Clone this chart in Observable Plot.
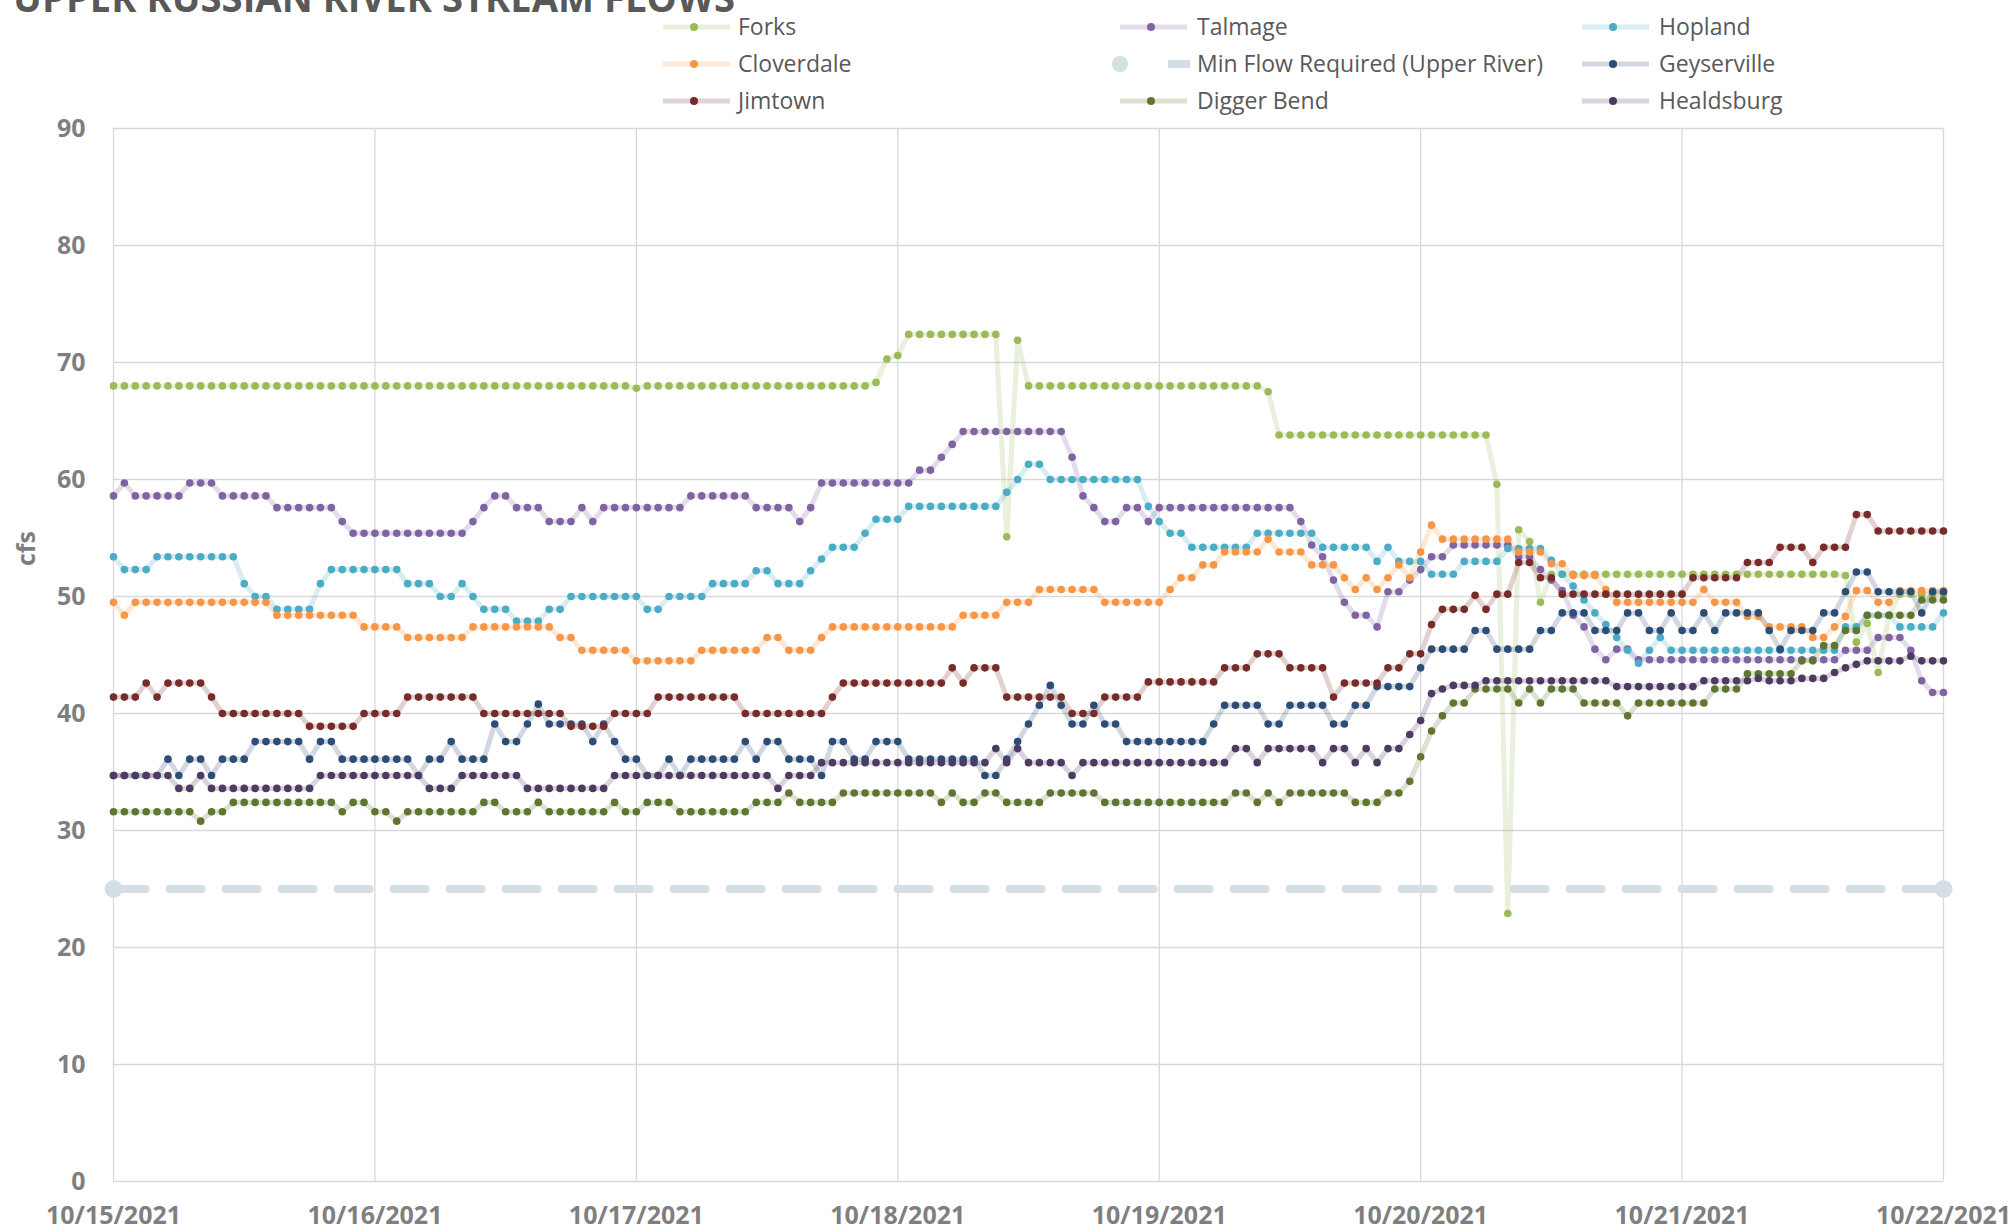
<!DOCTYPE html>
<html><head><meta charset="utf-8">
<script src="https://cdn.jsdelivr.net/npm/d3@7"></script>
<script src="https://cdn.jsdelivr.net/npm/@observablehq/plot@0.6"></script>
<style>
html,body{margin:0;padding:0;background:#fff;width:2012px;height:1232px;overflow:hidden;}
#header{display:block;position:relative;z-index:1;overflow:visible;}
#chart svg{display:block;}
</style></head>
<body>
<svg id="header" width="2012" height="100"></svg>
<div id="chart"></div>
<script>
const titleText = "UPPER RUSSIAN RIVER STREAM FLOWS";
const xTickLabels = ["10/15/2021","10/16/2021","10/17/2021","10/18/2021","10/19/2021","10/20/2021","10/21/2021","10/22/2021"];
const yTicks = [0,10,20,30,40,50,60,70,80,90];
const yLabel = "cfs";
const seriesNames = ["Forks","Talmage","Hopland","Cloverdale","Min Flow Required (Upper River)","Geyserville","Jimtown","Digger Bend","Healdsburg"];
const seriesColors = ["#9BBB59","#8064A2","#4BACC6","#F79646","#D3DFE4","#2C4D75","#772C2A","#5F7530","#4D3B62"];

// hourly readings, 10/15/2021 00:00 through 10/22/2021 00:00 (169 values)
const forks = [
68,68,68,68,68,68,68,68,68,68,68,68,68,68,68,68,68,68,68,68,68,68,68,68,
68,68,68,68,68,68,68,68,68,68,68,68,68,68,68,68,68,68,68,68,68,68,68,68,
67.8,68,68,68,68,68,68,68,68,68,68,68,68,68,68,68,68,68,68,68,68,68,68.3,70.3,
70.6,72.4,72.4,72.4,72.4,72.4,72.4,72.4,72.4,72.4,55.1,71.9,68,68,68,68,68,68,68,68,68,68,68,68,
68,68,68,68,68,68,68,68,68,68,67.5,63.8,63.8,63.8,63.8,63.8,63.8,63.8,63.8,63.8,63.8,63.8,63.8,63.8,
63.8,63.8,63.8,63.8,63.8,63.8,63.8,59.6,22.9,55.7,54.7,49.5,51.9,51.9,51.9,51.9,51.9,51.9,51.9,51.9,51.9,51.9,51.9,51.9,
51.9,51.9,51.9,51.9,51.9,51.9,51.9,51.9,51.9,51.9,51.9,51.9,51.9,51.9,51.9,51.8,46.1,47.7,43.5,48.4,50.2,50.2,50.2,50.2,
50.2];
const talmage = [
58.6,59.7,58.6,58.6,58.6,58.6,58.6,59.7,59.7,59.7,58.6,58.6,58.6,58.6,58.6,57.6,57.6,57.6,57.6,57.6,57.6,56.4,55.4,55.4,
55.4,55.4,55.4,55.4,55.4,55.4,55.4,55.4,55.4,56.4,57.6,58.6,58.6,57.6,57.6,57.6,56.4,56.4,56.4,57.6,56.4,57.6,57.6,57.6,
57.6,57.6,57.6,57.6,57.6,58.6,58.6,58.6,58.6,58.6,58.6,57.6,57.6,57.6,57.6,56.4,57.6,59.7,59.7,59.7,59.7,59.7,59.7,59.7,
59.7,59.7,60.8,60.8,61.9,63.0,64.1,64.1,64.1,64.1,64.1,64.1,64.1,64.1,64.1,64.1,61.9,58.6,57.6,56.4,56.4,57.6,57.6,56.4,
57.6,57.6,57.6,57.6,57.6,57.6,57.6,57.6,57.6,57.6,57.6,57.6,57.6,56.4,54.4,53.4,51.4,49.5,48.4,48.4,47.4,50.4,50.4,51.4,
52.3,53.4,53.4,54.4,54.4,54.4,54.4,54.4,54.4,53.4,53.4,52.3,51.4,50.5,48.4,47.4,45.5,44.6,45.5,45.5,44.6,44.6,44.6,44.6,
44.6,44.6,44.6,44.6,44.6,44.6,44.6,44.6,44.6,44.6,44.6,44.6,44.6,44.6,44.6,45.4,45.4,45.4,46.5,46.5,46.5,45.4,42.8,41.8,
41.8];
const hopland = [
53.4,52.3,52.3,52.3,53.4,53.4,53.4,53.4,53.4,53.4,53.4,53.4,51.1,50.0,50.0,48.9,48.9,48.9,48.9,51.1,52.3,52.3,52.3,52.3,
52.3,52.3,52.3,51.1,51.1,51.1,50.0,50.0,51.1,50.0,48.9,48.9,48.9,47.9,47.9,47.9,48.9,48.9,50.0,50.0,50.0,50.0,50.0,50.0,
50.0,48.9,48.9,50.0,50.0,50.0,50.0,51.1,51.1,51.1,51.1,52.2,52.2,51.1,51.1,51.1,52.2,53.2,54.2,54.2,54.2,55.4,56.6,56.6,
56.6,57.7,57.7,57.7,57.7,57.7,57.7,57.7,57.7,57.7,58.9,60.0,61.3,61.3,60.0,60.0,60.0,60.0,60.0,60.0,60.0,60.0,60.0,57.7,
56.4,55.4,55.4,54.2,54.2,54.2,54.2,54.2,54.2,55.4,55.4,55.4,55.4,55.4,55.4,54.2,54.2,54.2,54.2,54.2,53.0,54.2,53.0,53.0,
53.0,51.9,51.9,51.9,53.0,53.0,53.0,53.0,54.1,54.1,54.1,54.1,53.1,51.9,50.9,49.7,48.6,47.6,46.5,45.4,44.3,45.4,46.5,45.4,
45.4,45.4,45.4,45.4,45.4,45.4,45.4,45.4,45.4,45.4,45.4,45.4,45.4,45.4,45.4,47.4,47.4,48.4,48.4,48.4,47.4,47.4,47.4,47.4,
48.6];
const cloverdale = [
49.5,48.4,49.5,49.5,49.5,49.5,49.5,49.5,49.5,49.5,49.5,49.5,49.5,49.5,49.5,48.4,48.4,48.4,48.4,48.4,48.4,48.4,48.4,47.4,
47.4,47.4,47.4,46.5,46.5,46.5,46.5,46.5,46.5,47.4,47.4,47.4,47.4,47.4,47.4,47.4,47.4,46.5,46.5,45.4,45.4,45.4,45.4,45.4,
44.5,44.5,44.5,44.5,44.5,44.5,45.4,45.4,45.4,45.4,45.4,45.4,46.5,46.5,45.4,45.4,45.4,46.5,47.4,47.4,47.4,47.4,47.4,47.4,
47.4,47.4,47.4,47.4,47.4,47.4,48.4,48.4,48.4,48.4,49.5,49.5,49.5,50.6,50.6,50.6,50.6,50.6,50.6,49.5,49.5,49.5,49.5,49.5,
49.5,50.6,51.6,51.6,52.7,52.7,53.8,53.8,53.8,53.8,54.9,53.8,53.8,53.8,52.7,52.7,52.7,51.6,50.6,51.6,50.6,51.6,52.7,51.6,
53.8,56.1,54.9,54.9,54.9,54.9,54.9,54.9,54.9,53.8,53.8,53.8,52.8,52.8,51.8,51.8,51.8,50.6,49.5,49.5,49.5,49.5,49.5,49.5,
49.5,49.5,50.6,49.5,49.5,49.5,48.3,48.3,47.4,47.4,47.4,47.4,46.5,46.5,47.4,48.3,50.5,50.5,49.5,49.5,50.5,50.5,50.5,50.5,
50.5];
const minFlow = [25, 25];
const geyserville = [
34.7,34.7,34.7,34.7,34.7,36.1,34.7,36.1,36.1,34.7,36.1,36.1,36.1,37.6,37.6,37.6,37.6,37.6,36.1,37.6,37.6,36.1,36.1,36.1,
36.1,36.1,36.1,36.1,34.7,36.1,36.1,37.6,36.1,36.1,36.1,39.1,37.6,37.6,39.1,40.8,39.1,39.1,39.1,39.1,37.6,39.1,37.6,36.1,
36.1,34.7,34.7,36.1,34.7,36.1,36.1,36.1,36.1,36.1,37.6,36.1,37.6,37.6,36.1,36.1,36.1,34.7,37.6,37.6,36.1,36.1,37.6,37.6,
37.6,36.1,36.1,36.1,36.1,36.1,36.1,36.1,34.7,34.7,36.1,37.6,39.1,40.7,42.4,40.7,39.1,39.1,40.7,39.1,39.1,37.6,37.6,37.6,
37.6,37.6,37.6,37.6,37.6,39.1,40.7,40.7,40.7,40.7,39.1,39.1,40.7,40.7,40.7,40.7,39.1,39.1,40.7,40.7,42.3,42.3,42.3,42.3,
43.9,45.5,45.5,45.5,45.5,47.1,47.1,45.5,45.5,45.5,45.5,47.1,47.1,48.6,48.6,48.6,47.1,47.1,47.1,48.6,48.6,47.1,47.1,48.6,
47.1,47.1,48.6,47.1,48.6,48.6,48.6,48.6,47.1,45.5,47.1,47.1,47.1,48.6,48.6,50.4,52.1,52.1,50.4,50.4,50.4,50.4,48.6,50.4,
50.4];
const jimtown = [
41.4,41.4,41.4,42.6,41.4,42.6,42.6,42.6,42.6,41.4,40.0,40.0,40.0,40.0,40.0,40.0,40.0,40.0,38.9,38.9,38.9,38.9,38.9,40.0,
40.0,40.0,40.0,41.4,41.4,41.4,41.4,41.4,41.4,41.4,40.0,40.0,40.0,40.0,40.0,40.0,40.0,40.0,38.9,38.9,38.9,38.9,40.0,40.0,
40.0,40.0,41.4,41.4,41.4,41.4,41.4,41.4,41.4,41.4,40.0,40.0,40.0,40.0,40.0,40.0,40.0,40.0,41.4,42.6,42.6,42.6,42.6,42.6,
42.6,42.6,42.6,42.6,42.6,43.9,42.6,43.9,43.9,43.9,41.4,41.4,41.4,41.4,41.4,41.4,40.0,40.0,40.0,41.4,41.4,41.4,41.4,42.7,
42.7,42.7,42.7,42.7,42.7,42.7,43.9,43.9,43.9,45.1,45.1,45.1,43.9,43.9,43.9,43.9,41.4,42.6,42.6,42.6,42.6,43.9,43.9,45.1,
45.1,47.6,48.9,48.9,48.9,50.1,48.9,50.2,50.2,52.9,52.9,51.6,51.6,50.2,50.2,50.2,50.2,50.2,50.2,50.2,50.2,50.2,50.2,50.2,
50.2,51.6,51.6,51.6,51.6,51.6,52.9,52.9,52.9,54.2,54.2,54.2,52.9,54.2,54.2,54.2,57.0,57.0,55.6,55.6,55.6,55.6,55.6,55.6,
55.6];
const diggerBend = [
31.6,31.6,31.6,31.6,31.6,31.6,31.6,31.6,30.8,31.6,31.6,32.4,32.4,32.4,32.4,32.4,32.4,32.4,32.4,32.4,32.4,31.6,32.4,32.4,
31.6,31.6,30.8,31.6,31.6,31.6,31.6,31.6,31.6,31.6,32.4,32.4,31.6,31.6,31.6,32.4,31.6,31.6,31.6,31.6,31.6,31.6,32.4,31.6,
31.6,32.4,32.4,32.4,31.6,31.6,31.6,31.6,31.6,31.6,31.6,32.4,32.4,32.4,33.2,32.4,32.4,32.4,32.4,33.2,33.2,33.2,33.2,33.2,
33.2,33.2,33.2,33.2,32.4,33.2,32.4,32.4,33.2,33.2,32.4,32.4,32.4,32.4,33.2,33.2,33.2,33.2,33.2,32.4,32.4,32.4,32.4,32.4,
32.4,32.4,32.4,32.4,32.4,32.4,32.4,33.2,33.2,32.4,33.2,32.4,33.2,33.2,33.2,33.2,33.2,33.2,32.4,32.4,32.4,33.2,33.2,34.2,
36.3,38.5,39.8,40.9,40.9,42.1,42.1,42.1,42.1,40.9,42.1,40.9,42.1,42.1,42.1,40.9,40.9,40.9,40.9,39.8,40.9,40.9,40.9,40.9,
40.9,40.9,40.9,42.1,42.1,42.1,43.4,43.4,43.4,43.4,43.4,44.5,44.5,45.8,45.8,47.1,47.1,48.4,48.4,48.4,48.4,48.4,49.7,49.7,
49.7];
const healdsburg = [
34.7,34.7,34.7,34.7,34.7,34.7,33.6,33.6,34.7,33.6,33.6,33.6,33.6,33.6,33.6,33.6,33.6,33.6,33.6,34.7,34.7,34.7,34.7,34.7,
34.7,34.7,34.7,34.7,34.7,33.6,33.6,33.6,34.7,34.7,34.7,34.7,34.7,34.7,33.6,33.6,33.6,33.6,33.6,33.6,33.6,33.6,34.7,34.7,
34.7,34.7,34.7,34.7,34.7,34.7,34.7,34.7,34.7,34.7,34.7,34.7,34.7,33.6,34.7,34.7,34.7,35.8,35.8,35.8,35.8,35.8,35.8,35.8,
35.8,35.8,35.8,35.8,35.8,35.8,35.8,35.8,35.8,37.0,35.8,37.0,35.8,35.8,35.8,35.8,34.7,35.8,35.8,35.8,35.8,35.8,35.8,35.8,
35.8,35.8,35.8,35.8,35.8,35.8,35.8,37.0,37.0,35.8,37.0,37.0,37.0,37.0,37.0,35.8,37.0,37.0,35.8,37.0,35.8,37.0,37.0,38.2,
39.4,41.7,42.1,42.4,42.4,42.4,42.8,42.8,42.8,42.8,42.8,42.8,42.8,42.8,42.8,42.8,42.8,42.8,42.3,42.3,42.3,42.3,42.3,42.3,
42.3,42.3,42.8,42.8,42.8,42.8,42.8,43.0,42.8,42.8,42.8,43.0,43.0,43.0,43.5,43.9,44.2,44.5,44.5,44.5,44.5,44.9,44.5,44.5,
44.5];

const seriesValues = [forks, talmage, hopland, cloverdale, minFlow, geyserville, jimtown, diggerBend, healdsburg];
seriesValues.forEach((a, i) => { if (i !== 4 && a.length !== 169) throw new Error(seriesNames[i] + " has " + a.length); });

const parse = d3.utcParse("%m/%d/%Y");
const xDates = xTickLabels.map(parse);
const t0 = xDates[0], tEnd = xDates[xDates.length - 1];
const tickLabelOf = d => xTickLabels[xDates.findIndex(x => +x === +d)] ?? "";

const rows = seriesNames.map((name, i) => {
  const vals = seriesValues[i];
  if (i === 4) return [{t: t0, v: vals[0], s: name}, {t: tEnd, v: vals[1], s: name}];
  return vals.map((v, k) => ({t: new Date(+t0 + k * 3600000), v, s: name}));
});

const lineMarks = [], dotMarks = [];
rows.forEach((data, i) => {
  if (i === 4) return;
  lineMarks.push(Plot.line(data, {x: "t", y: "v", stroke: seriesColors[i], strokeOpacity: 0.22, strokeWidth: 5}));
  dotMarks.push(Plot.dot(data, {x: "t", y: "v", r: 3.8, fill: seriesColors[i]}));
});
const minMarks = [
  Plot.line(rows[4], {x: "t", y: "v", stroke: seriesColors[4], strokeWidth: 8, strokeDasharray: "32,24"}),
  Plot.dot(rows[4], {x: "t", y: "v", r: 9, fill: seriesColors[4]})
];

const chart = Plot.plot({
  width: 2012, height: 1132,
  marginTop: 28, marginBottom: 51, marginLeft: 113, marginRight: 69,
  style: {fontFamily: "'Open Sans', sans-serif", fontSize: "25px", fontWeight: "bold", color: "#7f7f7f", background: "transparent"},
  x: {type: "utc", domain: [t0, tEnd]},
  y: {domain: [0, 90]},
  marks: [
    Plot.gridY({ticks: yTicks, stroke: "#d9d9d9", strokeOpacity: 1, strokeWidth: 1.3}),
    Plot.gridX({ticks: xDates, stroke: "#d9d9d9", strokeOpacity: 1, strokeWidth: 1.3}),
    Plot.axisY({ticks: yTicks, tickSize: 0, tickPadding: 28, label: null}),
    Plot.axisX({ticks: xDates, tickSize: 0, tickPadding: 25, label: null, tickFormat: tickLabelOf}),
    ...lineMarks,
    ...minMarks,
    ...dotMarks,
    Plot.text([yLabel], {frameAnchor: "left", dx: -87, dy: -89, rotate: -90, fontSize: 25, fontWeight: "bold", fill: "#7f7f7f"})
  ]
});
document.getElementById("chart").appendChild(chart);

// header: title (cut at top, as in the source) and legend
const hdr = d3.select("#header");
hdr.append("text").attr("x", 13).attr("y", 12)
  .attr("font-family", "'Open Sans', sans-serif").attr("font-weight", "bold").attr("font-size", 39)
  .attr("fill", "#595959").attr("textLength", 722).attr("lengthAdjust", "spacingAndGlyphs").text(titleText);
const colX = [663, 1120, 1582];
const rowY = [27, 64, 101];
seriesNames.forEach((name, i) => {
  const cx = colX[i % 3], cy = rowY[Math.floor(i / 3)];
  const g = hdr.append("g");
  if (i === 4) {
    g.append("circle").attr("cx", cx).attr("cy", cy).attr("r", 8).attr("fill", seriesColors[i]);
    g.append("line").attr("x1", cx + 48).attr("x2", cx + 70).attr("y1", cy).attr("y2", cy)
      .attr("stroke", seriesColors[i]).attr("stroke-width", 8);
  } else {
    g.append("line").attr("x1", cx).attr("x2", cx + 67).attr("y1", cy).attr("y2", cy)
      .attr("stroke", seriesColors[i]).attr("stroke-opacity", 0.22).attr("stroke-width", 5);
    g.append("circle").attr("cx", cx + 31).attr("cy", cy).attr("r", 4).attr("fill", seriesColors[i]);
  }
  g.append("text").attr("x", cx + (i % 3 === 0 ? 75 : 77)).attr("y", cy).attr("dy", "0.35em")
    .attr("font-family", "'Open Sans', sans-serif").attr("font-size", 23).attr("fill", "#595959").text(name);
});
</script>
</body></html>
